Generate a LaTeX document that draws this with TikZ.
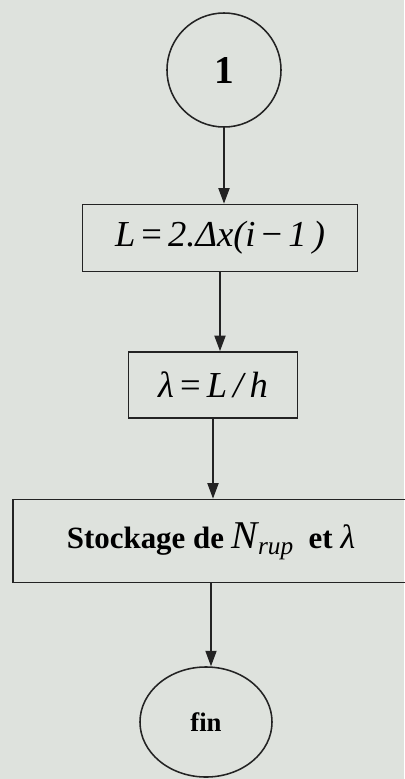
\documentclass[tikz,border=0pt]{standalone}
\usepackage{fontspec}
\setmainfont{Liberation Serif}
\usetikzlibrary{arrows.meta,shapes.geometric}

\definecolor{papier}{RGB}{222,226,221}
\definecolor{encre}{RGB}{35,35,35}

\tikzset{
  boite/.style={draw=encre, line width=1.3pt, inner sep=0pt},
  rond/.style={draw=encre, line width=1.1pt, circle, inner sep=0pt},
  ovale/.style={draw=encre, line width=1.1pt, ellipse, inner sep=0pt},
  fleche/.style={draw=encre, line width=0.8pt, -{Triangle[length=11pt,width=8pt]}},
}

\begin{document}
\begin{tikzpicture}[x=0.025cm,y=-0.025cm]
  % Page of the scan (pixel units, y downwards)
  \fill[papier] (0,0) rectangle (404,779);
  \useasboundingbox (0,0) rectangle (404,779);

  % Connector number at the top
  \node[rond, minimum size=2.85cm] (un) at (224,70)
    {\fontsize{28}{32}\selectfont\bfseries 1};

  % Length of the zone
  \node[boite, minimum width=6.875cm, minimum height=1.675cm] (longueur) at (220,238)
    {\fontsize{26}{30}\selectfont\itshape L\,\upshape=\,\itshape 2.Δx(i\,\upshape−\,\itshape 1\,)};

  % Ratio lambda
  \node[boite, minimum width=4.225cm, minimum height=1.65cm] (rapport) at (213,385)
    {\fontsize{26}{30}\selectfont\itshape λ\,\upshape=\,\itshape L\,/\,h};

  % Storage of the results
  \node[boite, minimum width=9.9cm, minimum height=2.075cm] (stockage) at (211,541)
    {\fontsize{22}{26}\selectfont\bfseries Stockage de
     {\mdseries\fontsize{28}{32}\selectfont\itshape N\raisebox{-0.35ex}{\fontsize{18}{20}\selectfont rup}}
     \ et {\mdseries\fontsize{24}{28}\selectfont\itshape λ}};

  % End of the chart
  \node[ovale, minimum width=3.3cm, minimum height=2.75cm] (fin) at (206,722)
    {\fontsize{19}{23}\selectfont\bfseries fin};

  % Arrows between the steps
  \draw[fleche] (un.south) -- (un.south |- longueur.north);
  \draw[fleche] (longueur.south) -- (longueur.south |- rapport.north);
  \draw[fleche] (rapport.south) -- (rapport.south |- stockage.north);
  \draw[fleche] (stockage.south) -- (stockage.south |- fin.north);
\end{tikzpicture}
\end{document}
